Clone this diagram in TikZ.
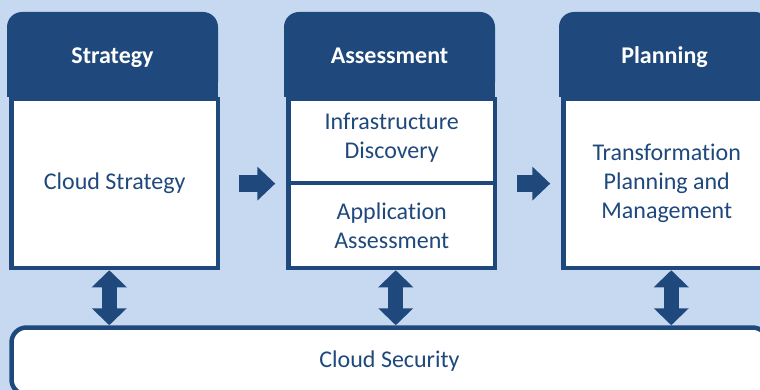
\documentclass[tikz,border=0pt]{standalone}
\usepackage{fontspec}
\setmainfont{Carlito}[Ligatures=NoCommon]
\usepackage{tikz}
\usetikzlibrary{arrows.meta,positioning}
\definecolor{dkblue}{HTML}{1F497D}
\definecolor{bgblue}{HTML}{C6D9F1}

\begin{document}
\begin{tikzpicture}
    [x=1pt, y=-1pt, font=\fontsize{24}{29}\selectfont,
    head/.style={fill=dkblue, text=white, font=\fontsize{24}{29}\selectfont\bfseries,
        rounded corners=15pt, minimum width=211pt, minimum height=85pt,
        text height=20pt, text depth=2pt,
        inner sep=0pt, outer sep=0pt, anchor=north west},
    body/.style={draw=dkblue, line width=4.5pt, fill=white, text=dkblue, align=center,
        minimum width=206.5pt, inner sep=0pt, anchor=north west},
    hconn/.style={dkblue, line width=17pt, -{Triangle[width=33pt,length=18pt]}},
    vconn/.style={dkblue, line width=15pt,
        {Triangle[width=34pt,length=17pt]}-{Triangle[width=34pt,length=17pt]}}]

\clip (0,0) rectangle (760,390);
\fill[bgblue] (0,0) rectangle (760,390);

\foreach \x/\n/\t in {7/strategy/Strategy, 284/assess/Assessment, 559/plan/Planning} {
    \fill[dkblue] (\x,50) rectangle ++(211,47);
    \node[head] (head\n) at (\x,12) {\t};
}

\node[body, minimum height=168.75pt] (strategy) at (9.25,97) {Cloud Strategy};
\node[body, minimum height=84pt, text depth=11pt] (infra) at (286.25,97) {Infrastructure\\Discovery};
\node[body, minimum height=84.75pt] (appassess) at (286.25,181) {Application\\Assessment};
\node[body, minimum height=168.75pt] (transform) at (561.25,97)
    {Transformation\\Planning and\\Management};
\node[body, rounded corners=15pt, minimum width=756pt, minimum height=67pt]
    (security) at (9.25,325.25) {Cloud Security};

\draw[hconn, shorten <=19pt, shorten >=11pt] (strategy.east) -- (strategy.east -| appassess.west);
\draw[hconn, shorten <=20pt, shorten >=11pt] (appassess.east |- transform.west) -- (transform.west);

\draw[vconn] ([xshift=-5.5pt]strategy.south) -- ([xshift=-5.5pt]strategy.south |- security.north);
\draw[vconn] ([xshift=4pt]appassess.south) -- ([xshift=4pt]appassess.south |- security.north);
\draw[vconn] ([xshift=4.5pt]transform.south) -- ([xshift=4.5pt]transform.south |- security.north);
\end{tikzpicture}
\end{document}
